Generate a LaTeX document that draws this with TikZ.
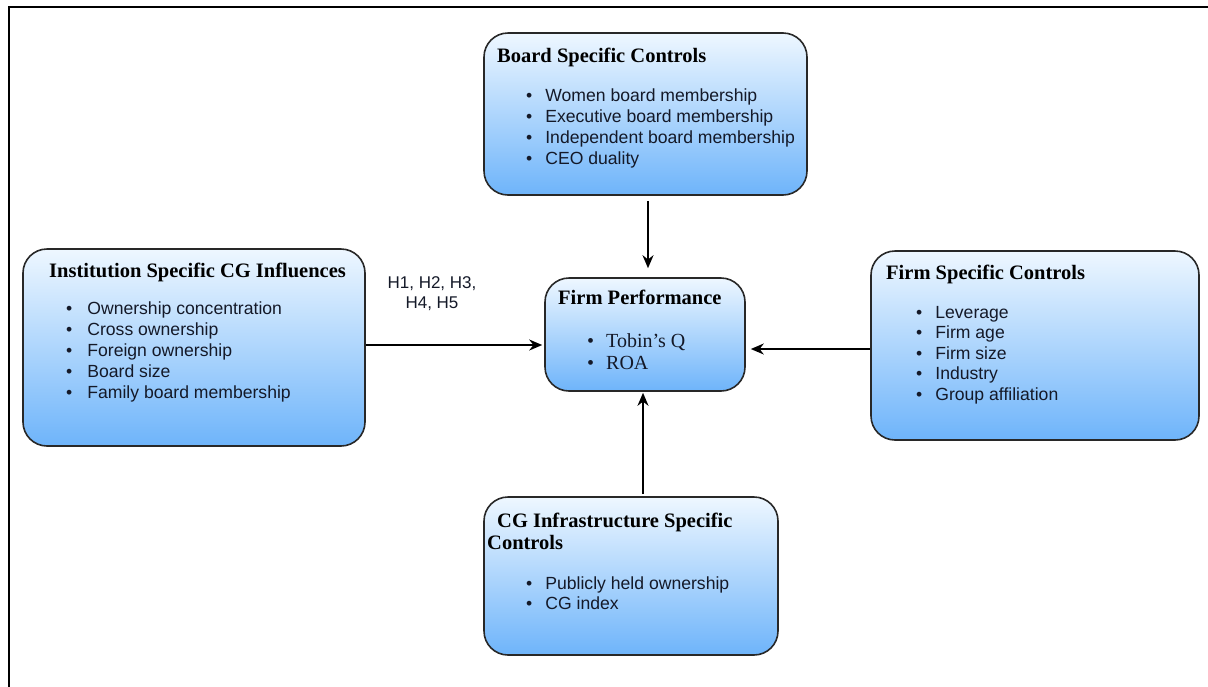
\documentclass[tikz,border=0pt]{standalone}
\usepackage{fontspec}
\setmainfont{Liberation Serif}
\setsansfont{Liberation Sans}
\usetikzlibrary{arrows.meta}
\definecolor{boxtop}{RGB}{238,247,255}
\definecolor{boxbot}{RGB}{110,180,250}
\definecolor{boxline}{RGB}{40,40,40}
\definecolor{txt}{RGB}{20,25,40}
\tikzset{
  box/.style={draw=boxline, line width=1.6pt, rounded corners=24pt,
    top color=boxtop, bottom color=boxbot, inner sep=0pt},
  title/.style={anchor=base west, inner sep=0pt, font=\bfseries\fontsize{20.5}{22}\selectfont},
  item/.style={anchor=base west, inner sep=0pt, text=txt, font=\sffamily\fontsize{17.6}{21}\selectfont},
  sitem/.style={anchor=base west, inner sep=0pt, text=txt, font=\fontsize{20}{22}\selectfont},
  conn/.style={line width=1.8pt, -{Stealth[length=13pt,width=11pt]}},
}
\newcommand{\bul}[2][13pt]{\textbullet\hspace{#1}#2}
\begin{document}
\begin{tikzpicture}[x=1pt,y=-1pt]
\useasboundingbox (0,0) rectangle (1208,686);
\draw[line width=2pt] (9,690) -- (9,7) -- (1212,7);

% boxes
\node[box, minimum width=323pt, minimum height=162pt] (brd) at (645.5,114) {};
\node[box, minimum width=342pt, minimum height=197pt] (inst) at (194,347.5) {};
\node[box, minimum width=200pt, minimum height=113pt] (fp) at (645,334.5) {};
\node[box, minimum width=328pt, minimum height=189pt] (firm) at (1035,345.5) {};
\node[box, minimum width=294pt, minimum height=158pt] (cgi) at (631,576) {};

% board text
\node[title] (brdt) at (497,62) {Board Specific Controls};
\foreach \t [count=\i] in {Women board membership, Executive board membership, Independent board membership, CEO duality}
  \node[item] (brd\i) at (526,{101+21*(\i-1)}) {\bul{\t}};

% institution
\node[title] (instt) at (49,277) {Institution Specific CG Influences};
\foreach \t [count=\i] in {Ownership concentration, Cross ownership, Foreign ownership, Board size, Family board membership}
  \node[item] (inst\i) at (66,{314+21.2*(\i-1)}) {\bul[15pt]{\t}};

% firm performance
\node[title] (fpt) at (558,304) {Firm Performance};
\node[sitem] (fp1) at (587,347) {\bul[12pt]{Tobin’s Q}};
\node[sitem] (fp2) at (587,369) {\bul[12pt]{ROA}};

% firm specific
\node[title] (firmt) at (886,279) {Firm Specific Controls};
\foreach \t [count=\i] in {Leverage, Firm age, Firm size, Industry, Group affiliation}
  \node[item] (firm\i) at (916,{318+20.6*(\i-1)}) {\bul[13pt]{\t}};

% CG infrastructure
\node[title] (cgit1) at (497,527) {CG Infrastructure Specific};
\node[title] (cgit2) at (487,549) {Controls};
\node[item] (cgi1) at (526,589) {\bul{Publicly held ownership}};
\node[item] (cgi2) at (526,609) {\bul{CG index}};

% connectors
\draw[conn, shorten <=5pt, shorten >=9pt] ([xshift=2.5pt]brd.south) -- ([xshift=3pt]fp.north);
\draw[conn, shorten >=2pt] (inst.east |- 0,345) -- (fp.west |- 0,345);
\draw[conn, shorten >=5pt] (firm.west |- 0,349) -- (fp.east |- 0,349);
\draw[conn, shorten <=2pt, shorten >=1pt] ([xshift=12pt]cgi.north) -- ([xshift=-2pt]fp.south);

\node[font=\sffamily\fontsize{17}{20}\selectfont, text=txt, align=center] (hlab) at (432,294) {H1, H2, H3,\\H4, H5};
\end{tikzpicture}
\end{document}
